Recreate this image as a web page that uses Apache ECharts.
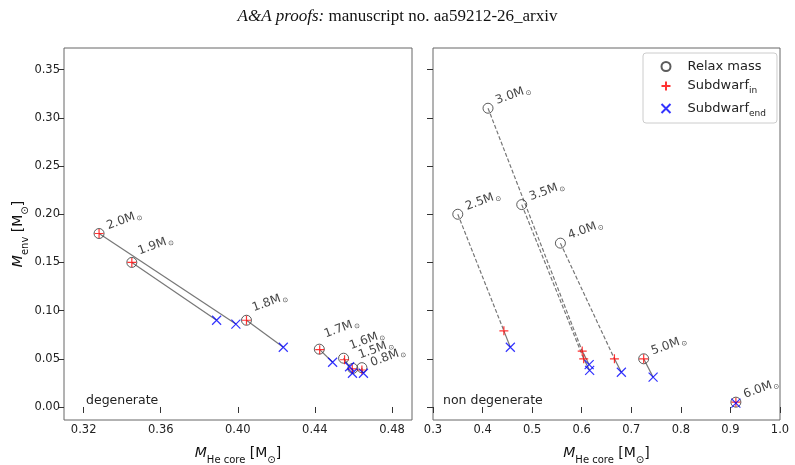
<!DOCTYPE html>
<html>
<head>
<meta charset="utf-8">
<script src="https://cdn.jsdelivr.net/npm/echarts@6/dist/echarts.min.js"></script>
<style>
  html, body { margin: 0; padding: 0; background: #fff; }
  #main { width: 795px; height: 465px; }
</style>
</head>
<body>
<div id="main"></div>
<script>
// degenerate models (left panel)
const leftModels = ['2.0', '1.9', '1.8', '1.7', '1.6', '1.5', '0.8'];
const leftRelaxX = [0.328, 0.345, 0.4045, 0.4423, 0.4549, 0.4597, 0.4644];
const leftRelaxY = [0.180, 0.150, 0.090, 0.060, 0.0506, 0.040, 0.0408];
const leftInX = [0.328, 0.345, 0.4045, 0.4425, 0.4554, 0.4594, 0.4644];
const leftInY = [0.180, 0.150, 0.090, 0.0595, 0.049, 0.0395, 0.0384];
const leftEndX = [0.399, 0.389, 0.4236, 0.4492, 0.458, 0.4595, 0.4652];
const leftEndY = [0.086, 0.090, 0.062, 0.0464, 0.0418, 0.035, 0.035];

// non degenerate models (right panel)
const rightModels = ['2.5', '3.0', '3.5', '4.0', '5.0', '6.0'];
const rightRelaxX = [0.350, 0.411, 0.479, 0.557, 0.725, 0.911];
const rightRelaxY = [0.200, 0.310, 0.210, 0.170, 0.050, 0.005];
const rightInX = [0.443, 0.601, 0.604, 0.666, 0.725, 0.911];
const rightInY = [0.079, 0.058, 0.050, 0.050, 0.050, 0.005];
const rightEndX = [0.456, 0.615, 0.616, 0.680, 0.744, 0.911];
const rightEndY = [0.062, 0.044, 0.038, 0.036, 0.031, 0.004];

const yTicks = [0, 0.05, 0.10, 0.15, 0.20, 0.25, 0.30, 0.35];
const leftXTicks = [0.32, 0.36, 0.40, 0.44, 0.48];

// extra vertical shift of a few crowded labels (px)
const labelLift = { '1.9': -4, '1.8': -5, '1.7': -8, '1.6': -5, '1.5': -6, '0.8': 3 };

const FONT = 'DejaVu Sans';
const PLUS = 'path://M0,5L10,5M5,0L5,10';
const CROSS = 'path://M0,0L10,10M10,0L0,10';

let myChart = echarts.init(document.getElementById('main'));

const nameRich = {
  i: { fontFamily: FONT, fontSize: 14, fontStyle: 'italic', color: '#111', lineHeight: 18 },
  t: { fontFamily: FONT, fontSize: 14, color: '#111', lineHeight: 18 },
  s: { fontFamily: FONT, fontSize: 10, color: '#111', verticalAlign: 'bottom', lineHeight: 14, padding: [0, 0, -3, 0] }
};

function pts(xs, ys, names) {
  return xs.map((x, i) => ({ value: [x, ys[i]], name: names[i] }));
}

function trackSeries(idx, models, rx, ry, ix, iy, ex, ey) {
  let out = [];
  models.forEach((m, i) => {
    out.push({
      type: 'line', xAxisIndex: idx, yAxisIndex: idx, silent: true,
      symbol: 'none', z: 1,
      lineStyle: { color: '#777', width: 1.2, type: [4, 2] },
      data: [[rx[i], ry[i]], [ix[i], iy[i]]]
    });
    out.push({
      type: 'line', xAxisIndex: idx, yAxisIndex: idx, silent: true,
      symbol: 'none', z: 1,
      lineStyle: { color: '#777', width: 1.2 },
      data: [[ix[i], iy[i]], [ex[i], ey[i]]]
    });
  });
  return out;
}

function relaxSeries(idx, models, rx, ry) {
  return {
    name: 'relax', type: 'scatter', xAxisIndex: idx, yAxisIndex: idx, z: 3,
    symbol: 'circle', symbolSize: 10,
    itemStyle: { color: 'rgba(0,0,0,0)', borderColor: '#333', borderWidth: 1 },
    data: pts(rx, ry, models).map(d => {
      let lift = labelLift[d.name] || 0;
      d.label = { offset: [10, 2 + lift] };
      return d;
    }),
    label: {
      show: true, rotate: 20, position: 'inside', align: 'left', verticalAlign: 'bottom',
      formatter: p => '{a|' + p.name + 'M}{b|⊙}',
      rich: {
        a: { fontFamily: FONT, fontSize: 12, color: '#111' },
        b: { fontFamily: FONT, fontSize: 7, color: '#111', verticalAlign: 'bottom', padding: [0, 0, -1, 1] }
      }
    }
  };
}

function inSeries(idx, models, ix, iy) {
  return {
    name: 'in', type: 'scatter', xAxisIndex: idx, yAxisIndex: idx, z: 4,
    symbol: PLUS, symbolSize: 9,
    itemStyle: { color: 'none', borderColor: '#ff0000', borderWidth: 1.2 },
    data: pts(ix, iy, models)
  };
}

function endSeries(idx, models, ex, ey) {
  return {
    name: 'end', type: 'scatter', xAxisIndex: idx, yAxisIndex: idx, z: 5,
    symbol: CROSS, symbolSize: 9,
    itemStyle: { color: 'none', borderColor: '#0000ff', borderWidth: 1.2 },
    data: pts(ex, ey, models)
  };
}

const axisCommon = {
  axisLine: { show: false },
  splitLine: { show: false },
  axisTick: { show: true, inside: false, length: 6, lineStyle: { color: '#333', width: 1 } },
  axisLabel: { fontFamily: FONT, fontSize: 11.5, color: '#222', margin: 4 }
};

const xName = '{i|M}{s|He core}{t| [M}{s|⊙}{t|]}';

myChart.setOption({
  animation: false,
  title: {
    text: '{i|A&A proofs:}{t| manuscript no. aa59212-26_arxiv}',
    left: 'center', top: 3,
    textStyle: {
      fontWeight: 'normal',
      rich: {
        i: { fontFamily: 'Liberation Serif', fontSize: 17, fontStyle: 'italic', fontWeight: 'normal', color: '#111' },
        t: { fontFamily: 'Liberation Serif', fontSize: 17, fontWeight: 'normal', color: '#111' }
      }
    }
  },
  grid: [
    { left: 64, top: 48, width: 348, height: 372, show: true, borderColor: '#666', borderWidth: 1, outerBoundsMode: 'none', containLabel: false },
    { left: 433, top: 48, width: 347, height: 372, show: true, borderColor: '#666', borderWidth: 1, outerBoundsMode: 'none', containLabel: false }
  ],
  xAxis: [
    Object.assign({}, axisCommon, {
      gridIndex: 0, type: 'value', min: 0.3098, max: 0.4904,
      axisTick: Object.assign({}, axisCommon.axisTick, { customValues: leftXTicks }),
      axisLabel: Object.assign({}, axisCommon.axisLabel, { customValues: leftXTicks, formatter: v => v.toFixed(2) }),
      name: xName, nameLocation: 'middle', nameGap: 24,
      nameTextStyle: { rich: nameRich }
    }),
    Object.assign({}, axisCommon, {
      gridIndex: 1, type: 'value', min: 0.3, max: 1.0, interval: 0.1,
      axisLabel: Object.assign({}, axisCommon.axisLabel, { formatter: v => v.toFixed(1) }),
      name: xName, nameLocation: 'middle', nameGap: 24,
      nameTextStyle: { rich: nameRich }
    })
  ],
  yAxis: [
    Object.assign({}, axisCommon, {
      gridIndex: 0, type: 'value', min: -0.0135, max: 0.3725,
      axisTick: Object.assign({}, axisCommon.axisTick, { customValues: yTicks }),
      axisLabel: Object.assign({}, axisCommon.axisLabel, { customValues: yTicks, formatter: v => v.toFixed(2) }),
      name: '{i|M}{s|env}{t| [M}{s|⊙}{t|]}', nameLocation: 'middle', nameGap: 29, nameRotate: 90,
      nameTextStyle: { rich: nameRich }
    }),
    Object.assign({}, axisCommon, {
      gridIndex: 1, type: 'value', min: -0.0135, max: 0.3725,
      axisTick: Object.assign({}, axisCommon.axisTick, { customValues: yTicks }),
      axisLabel: { show: false }
    })
  ],
  legend: {
    left: 643, top: 53, orient: 'vertical',
    data: ['relax', 'in', 'end'],
    itemWidth: 9, itemHeight: 9, itemGap: 6,
    padding: [7, 11, 5, 16],
    borderColor: '#ccc', borderWidth: 1, borderRadius: 3,
    textStyle: {
      fontFamily: FONT, fontSize: 13, color: '#222', padding: [0, 0, 0, 12],
      rich: {
        t: { fontFamily: FONT, fontSize: 13, color: '#222' },
        s: { fontFamily: FONT, fontSize: 9, color: '#222', verticalAlign: 'bottom', padding: [0, 0, -3, 0] }
      }
    },
    formatter: n => n === 'relax' ? '{t|Relax mass}' : (n === 'in' ? '{t|Subdwarf}{s|in}' : '{t|Subdwarf}{s|end}')
  },
  graphic: [
    { type: 'text', left: 86, top: 394, style: { text: 'degenerate', fontFamily: FONT, fontSize: 12.5, fill: '#222' } },
    { type: 'text', left: 443, top: 394, style: { text: 'non degenerate', fontFamily: FONT, fontSize: 12.5, fill: '#222' } }
  ],
  series: [].concat(
    trackSeries(0, leftModels, leftRelaxX, leftRelaxY, leftInX, leftInY, leftEndX, leftEndY),
    trackSeries(1, rightModels, rightRelaxX, rightRelaxY, rightInX, rightInY, rightEndX, rightEndY),
    [
      relaxSeries(0, leftModels, leftRelaxX, leftRelaxY),
      relaxSeries(1, rightModels, rightRelaxX, rightRelaxY),
      inSeries(0, leftModels, leftInX, leftInY),
      inSeries(1, rightModels, rightInX, rightInY),
      endSeries(0, leftModels, leftEndX, leftEndY),
      endSeries(1, rightModels, rightEndX, rightEndY)
    ]
  )
});
</script>
</body>
</html>
